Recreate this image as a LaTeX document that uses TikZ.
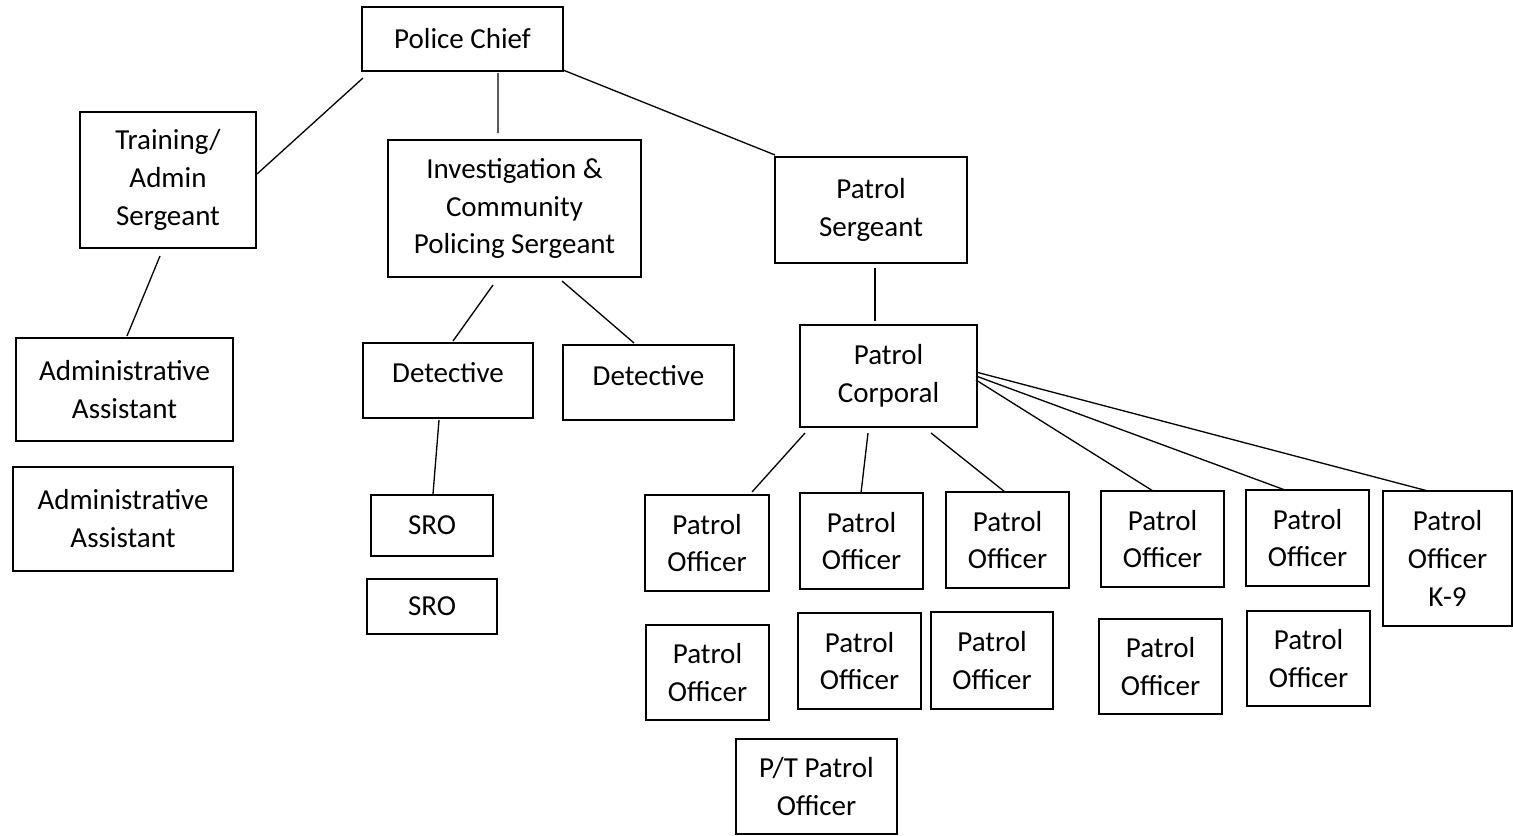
\documentclass[tikz,border=0pt]{standalone}
\usepackage{fontspec}
\setmainfont{Carlito}
\begin{document}
\begin{tikzpicture}[x=0.02cm,y=-0.02cm,
  box/.style={draw=black,line width=0.9pt,inner sep=0pt,outer sep=0pt,align=center,
    font=\fontsize{16.5}{21.6}\selectfont},
  link/.style={draw=black,line width=0.75pt}]
\useasboundingbox (0,0) rectangle (1513,835);
% top levels
\node[box,minimum width=201*0.02cm,minimum height=64*0.02cm] (chief) at (462.5,39) {Police Chief};
\node[box,minimum width=176*0.02cm,minimum height=136*0.02cm] (train) at (168,180) {Training/\\Admin\\Sergeant};
\node[box,minimum width=253*0.02cm,minimum height=137*0.02cm] (inv) at (514.5,208.5) {Investigation \&\\Community\\Policing Sergeant};
\node[box,minimum width=192*0.02cm,minimum height=106*0.02cm] (psgt) at (871,210) {Patrol\\Sergeant};
% admin
\node[box,minimum width=217*0.02cm,minimum height=103*0.02cm] (aa1) at (124.5,389.5) {Administrative\\Assistant};
\node[box,minimum width=220*0.02cm,minimum height=104*0.02cm] (aa2) at (123,519) {Administrative\\Assistant};
% investigation
\node[box,minimum width=170*0.02cm,minimum height=75*0.02cm] (det1) at (448,380.5) {};
\node[font=\fontsize{16.5}{21.6}\selectfont] (det1t) at (448,373) {Detective};
\node[box,minimum width=171*0.02cm,minimum height=75*0.02cm] (det2) at (648.5,382.5) {};
\node[font=\fontsize{16.5}{21.6}\selectfont] (det2t) at (648.5,376) {Detective};
\node[box,minimum width=122*0.02cm,minimum height=61*0.02cm] (sro1) at (432,525.5) {SRO};
\node[box,minimum width=130*0.02cm,minimum height=55*0.02cm] (sro2) at (432,606.5) {SRO};
% patrol
\node[box,minimum width=177*0.02cm,minimum height=102*0.02cm] (corp) at (888.5,376) {Patrol\\Corporal};
\node[box,minimum width=124*0.02cm,minimum height=96*0.02cm] (po1) at (707,543) {Patrol\\Officer};
\node[box,minimum width=123*0.02cm,minimum height=96*0.02cm] (po2) at (861.5,541) {Patrol\\Officer};
\node[box,minimum width=123*0.02cm,minimum height=96*0.02cm] (po3) at (1007.5,540) {Patrol\\Officer};
\node[box,minimum width=123*0.02cm,minimum height=96*0.02cm] (po4) at (1162.5,539) {Patrol\\Officer};
\node[box,minimum width=123*0.02cm,minimum height=96*0.02cm] (po5) at (1307.5,538) {Patrol\\Officer};
\node[box,minimum width=129*0.02cm,minimum height=135*0.02cm] (k9) at (1447.5,558.5) {Patrol\\Officer\\K-9};
\node[box,minimum width=123*0.02cm,minimum height=95*0.02cm] (po6) at (707.5,672.5) {Patrol\\Officer};
\node[box,minimum width=123*0.02cm,minimum height=96*0.02cm] (po7) at (859.5,661) {Patrol\\Officer};
\node[box,minimum width=122*0.02cm,minimum height=97*0.02cm] (po8) at (992,660.5) {Patrol\\Officer};
\node[box,minimum width=123*0.02cm,minimum height=95*0.02cm] (po9) at (1160.5,666.5) {Patrol\\Officer};
\node[box,minimum width=123*0.02cm,minimum height=95*0.02cm] (po10) at (1308.5,658.5) {Patrol\\Officer};
\node[box,minimum width=161*0.02cm,minimum height=95*0.02cm] (pt) at (816.5,786.5) {P/T Patrol\\Officer};
% connectors
\draw[link] ([shift={(1,7)}]chief.south west) -- ([shift={(1,-6)}]train.east);
\draw[link] ([shift={(35.5,2)}]chief.south) -- ([shift={(-16.5,-7)}]inv.north);
\draw[link] ([shift={(0,-1)}]chief.south east) -- ([shift={(0,-2)}]psgt.north west);
\draw[link] ([shift={(-8,8)}]train.south) -- ([shift={(2.5,-2)}]aa1.north);
\draw[link] ([shift={(-21.5,8)}]inv.south) -- ([shift={(5,-2)}]det1.north);
\draw[link] ([shift={(47.5,4)}]inv.south) -- ([shift={(-14.5,-2)}]det2.north);
\draw[link] ([shift={(-9,2)}]det1.south) -- ([shift={(1,-1)}]sro1.north);
\draw[link] ([shift={(4,5)}]psgt.south) -- ([shift={(-13.5,-4)}]corp.north);
\draw[link] ([shift={(5,6)}]corp.south west) -- ([shift={(45,-3)}]po1.north);
\draw[link] ([shift={(-20.5,6)}]corp.south) -- ([shift={(-0.5,0)}]po2.north);
\draw[link] ([shift={(42.5,6)}]corp.south) -- ([shift={(-2.5,0)}]po3.north);
\draw[link] ([shift={(-1,4)}]corp.east) -- ([shift={(-9.5,0)}]po4.north);
\draw[link] ([shift={(-1,0)}]corp.east) -- ([shift={(-22.5,0)}]po5.north);
\draw[link] ([shift={(-1,-4)}]corp.east) -- ([shift={(-19.5,0)}]k9.north);
\end{tikzpicture}
\end{document}
